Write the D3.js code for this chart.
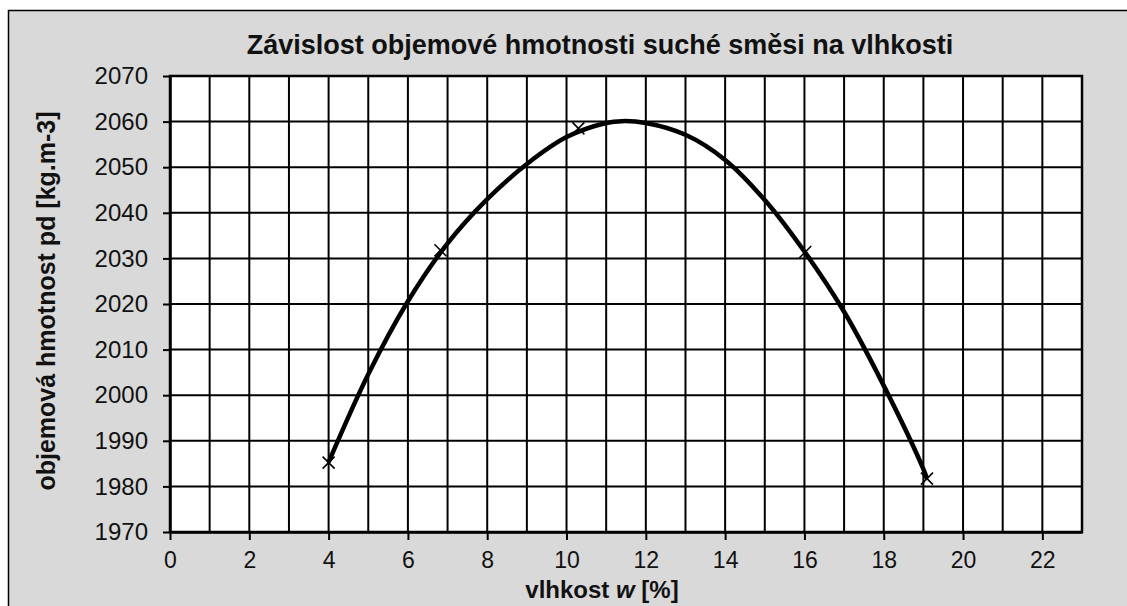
<!DOCTYPE html>
<html>
<head>
<meta charset="utf-8">
<script src="https://cdn.jsdelivr.net/npm/d3@7"></script>
<style>
  body { margin: 0; background: #fff; }
  svg { display: block; font-family: "Liberation Sans", Arial, sans-serif; }
</style>
</head>
<body>
<svg width="1127" height="606"></svg>
<script>
// measured points (vlhkost w [%], objemova hmotnost)
var pointW = [4.0, 6.82, 10.3, 16.02, 19.09];
var pointRho = [1985.2, 2031.8, 2058.5, 2031.4, 1981.7];

// trend curve
var curveW = [4, 5, 6, 7, 8, 9, 10, 11, 11.4, 12, 13, 14, 15, 16, 17, 18, 19, 19.09];
var curveRho = [1985.3, 2004.6, 2020.6, 2033.3, 2043.0, 2050.7, 2056.6, 2059.7, 2060.1, 2059.7,
  2057.1, 2051.6, 2042.8, 2031.5, 2018.3, 2002.1, 1983.8, 1981.7];

var xTicks = [0, 2, 4, 6, 8, 10, 12, 14, 16, 18, 20, 22];
var yTicks = [1970, 1980, 1990, 2000, 2010, 2020, 2030, 2040, 2050, 2060, 2070];

var svg = d3.select("svg"),
  margin = {top: 76, right: 45, bottom: 74, left: 170},
  width = 1127 - margin.left - margin.right,
  height = 606 - margin.top - margin.bottom;

// grey chart area with frame
svg.append("rect")
  .attr("x", 8.5).attr("y", 10.5)
  .attr("width", 1127).attr("height", 606)
  .attr("fill", "#d9d9d9")
  .attr("stroke", "#000").attr("stroke-width", 1.5);

var x = d3.scaleLinear().domain([0, 23]).range([0, width]),
  y = d3.scaleLinear().domain([1970, 2070]).range([height, 0]);

var g = svg.append("g")
  .attr("transform", "translate(" + margin.left + "," + margin.top + ")");

g.append("rect")
  .attr("width", width).attr("height", height)
  .attr("fill", "#fff");

// grid: every 1 % on x, every 10 on y
g.append("g").selectAll("line")
  .data(d3.range(1, 24))
  .enter().append("line")
  .attr("x1", function(d) { return x(d); })
  .attr("x2", function(d) { return x(d); })
  .attr("y1", 0).attr("y2", height)
  .attr("stroke", "#000").attr("stroke-width", 2);

g.append("g").selectAll("line")
  .data(yTicks)
  .enter().append("line")
  .attr("x1", 0).attr("x2", width)
  .attr("y1", function(d) { return y(d); })
  .attr("y2", function(d) { return y(d); })
  .attr("stroke", "#000").attr("stroke-width", 2);

// axes
var xAxis = g.append("g")
  .attr("transform", "translate(0," + height + ")")
  .call(d3.axisBottom(x).tickValues(xTicks).tickSize(8).tickSizeOuter(0).tickPadding(12));

var yAxis = g.append("g")
  .call(d3.axisLeft(y).tickValues(yTicks).tickSize(7).tickSizeOuter(0).tickPadding(15).tickFormat(d3.format("d")));

[xAxis, yAxis].forEach(function(a) {
  a.select(".domain").attr("stroke", "#000").attr("stroke-width", 2.5);
  a.selectAll(".tick line").attr("stroke", "#000").attr("stroke-width", 2);
  a.selectAll(".tick text")
    .attr("fill", "#111")
    .style("font-size", "24px")
    .style("font-family", "'Liberation Sans', Arial, sans-serif");
});
xAxis.selectAll(".tick text").style("font-size", "23px");

// trend line
var line = d3.line()
  .x(function(d, i) { return x(curveW[i]); })
  .y(function(d) { return y(d); })
  .curve(d3.curveCatmullRom);

g.append("path")
  .datum(curveRho)
  .attr("fill", "none")
  .attr("stroke", "#000")
  .attr("stroke-width", 4.5)
  .attr("stroke-linejoin", "round")
  .attr("d", line);

// x markers
var s = 6;
g.append("g").selectAll("path")
  .data(pointRho)
  .enter().append("path")
  .attr("d", function(d, i) {
    var px = x(pointW[i]), py = y(d);
    return "M" + (px - s) + "," + (py - s) + "L" + (px + s) + "," + (py + s) +
      "M" + (px - s) + "," + (py + s) + "L" + (px + s) + "," + (py - s);
  })
  .attr("stroke", "#000")
  .attr("stroke-width", 1.6)
  .attr("fill", "none");

// plot border
g.append("rect")
  .attr("width", width).attr("height", height)
  .attr("fill", "none")
  .attr("stroke", "#000").attr("stroke-width", 2.5);

// titles
svg.append("text")
  .attr("x", 600).attr("y", 54)
  .attr("text-anchor", "middle")
  .attr("fill", "#111")
  .style("font-size", "27px").style("font-weight", "bold")
  .text("Závislost objemové hmotnosti suché směsi na vlhkosti");

svg.append("text")
  .attr("transform", "translate(55,301) rotate(-90)")
  .attr("text-anchor", "middle")
  .attr("fill", "#111")
  .style("font-size", "25px").style("font-weight", "bold")
  .text("objemová hmotnost pd [kg.m-3]");

var xt = svg.append("text")
  .attr("x", 602).attr("y", 598)
  .attr("text-anchor", "middle")
  .attr("fill", "#111")
  .style("font-size", "24px").style("font-weight", "bold");
xt.append("tspan").text("vlhkost ");
xt.append("tspan").style("font-style", "italic").text("w");
xt.append("tspan").text(" [%]");
</script>
</body>
</html>
